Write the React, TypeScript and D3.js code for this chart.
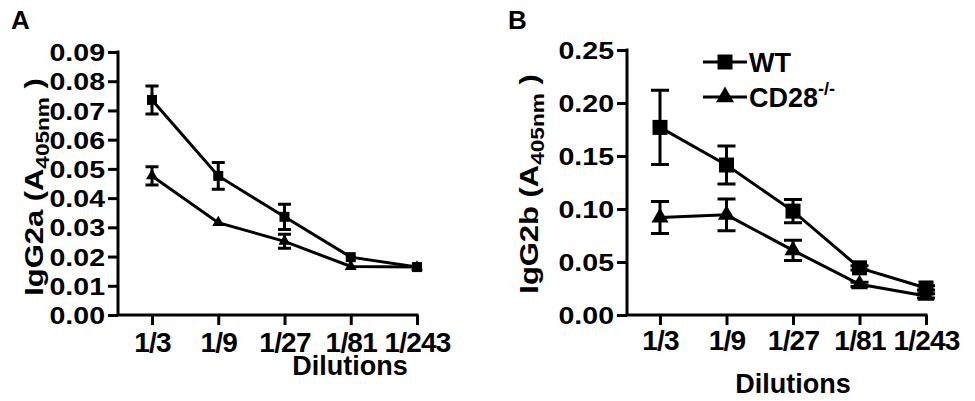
import React, { useRef, useEffect } from "react";
import * as d3 from "d3";

const dilutions = ["1/3", "1/9", "1/27", "1/81", "1/243"];

// panel A: IgG2a
const wtA = [0.0736, 0.0476, 0.0336, 0.0198, 0.0164];
const wtAErr = [0.0048, 0.0046, 0.0043, 0.0006, 0.0004];
const cdA = [0.0476, 0.0316, 0.0252, 0.0166, 0.0164];
const cdAErr = [0.0031, 0.0004, 0.0024, 0.0006, 0.0004];
const ticksA = [0, 0.01, 0.02, 0.03, 0.04, 0.05, 0.06, 0.07, 0.08, 0.09];

// panel B: IgG2b
const wtB = [0.177, 0.1415, 0.098, 0.0445, 0.0255];
const wtBErr = [0.035, 0.018, 0.011, 0.002, 0.002];
const cdB = [0.092, 0.0945, 0.061, 0.029, 0.018];
const cdBErr = [0.015, 0.015, 0.0095, 0.002, 0.002];
const ticksB = [0, 0.05, 0.1, 0.15, 0.2, 0.25];

const legend = ["WT", "CD28"];

const FONT = "'Liberation Sans', Arial, Helvetica, sans-serif";
const STRETCH = 1.19;

type Panel = {
  letter: string;
  letterX: number;
  axisX: number;
  x0: number;
  x1: number;
  max: number;
  top: number;
  ticks: number[];
  wt: number[];
  wtErr: number[];
  cd: number[];
  cdErr: number[];
  sq: number;
  cap: number;
  yTitle: string;
  titleX: number;
  titleY: number;
  dilX: number;
  dilY: number;
  xPad: number;
};

const panels: Panel[] = [
  {
    letter: "A", letterX: 11, axisX: 118, x0: 152, x1: 417, max: 0.09, top: 52,
    ticks: ticksA, wt: wtA, wtErr: wtAErr, cd: cdA, cdErr: cdAErr,
    sq: 10, cap: 13, yTitle: "IgG2a", titleX: 43, titleY: 187, dilX: 350, dilY: 375, xPad: 7,
  },
  {
    letter: "B", letterX: 508, axisX: 627, x0: 660, x1: 926, max: 0.25, top: 50,
    ticks: ticksB, wt: wtB, wtErr: wtBErr, cd: cdB, cdErr: cdBErr,
    sq: 15, cap: 18, yTitle: "IgG2b", titleX: 538, titleY: 184, dilX: 793, dilY: 393, xPad: 5,
  },
];

const BASE = 315;

const App = () => {
  const svgRef = useRef<SVGSVGElement>(null);

  useEffect(() => {
    const svg = d3.select(svgRef.current);
    svg.selectAll("*").remove();

    panels.forEach((p) => {
      const g = svg.append("g");
      const x = d3.scalePoint().domain(dilutions).range([p.x0, p.x1]);
      const y = d3.scaleLinear().domain([0, p.max]).range([BASE, p.top]);

      g.append("text")
        .attr("x", p.letterX)
        .attr("y", 29)
        .attr("font-size", 26)
        .attr("font-weight", "bold")
        .text(p.letter);

      // y axis
      const ya = g
        .append("g")
        .attr("transform", `translate(${p.axisX},0)`)
        .call(d3.axisLeft(y).tickValues(p.ticks).tickFormat(d3.format(".2f")).tickSize(10).tickSizeOuter(0));
      ya.select(".domain").remove();
      ya.selectAll(".tick line").attr("stroke", "#000").attr("stroke-width", 3);
      ya.selectAll(".tick text")
        .attr("font-size", 24)
        .attr("font-weight", "bold")
        .attr("font-family", FONT)
        .attr("fill", "#000")
        .attr("x", -13 / STRETCH)
        .attr("transform", `scale(${STRETCH},1)`)
        .attr("dy", "0.36em");

      // x axis
      const xa = g
        .append("g")
        .attr("transform", `translate(0,${BASE})`)
        .call(d3.axisBottom(x).tickSize(10).tickSizeOuter(0).tickPadding(p.xPad));
      xa.select(".domain").remove();
      xa.selectAll(".tick line").attr("stroke", "#000").attr("stroke-width", 3);
      xa.selectAll(".tick text")
        .attr("font-size", 28)
        .attr("font-weight", "bold")
        .attr("font-family", FONT)
        .attr("fill", "#000")
        .attr("letter-spacing", -0.8);

      g.append("path")
        .attr("d", `M${p.axisX},${p.top - 1.5}V${BASE}H${p.x1 + 1.5}`)
        .attr("fill", "none")
        .attr("stroke", "#000")
        .attr("stroke-width", 3);

      g.append("text")
        .attr("x", p.dilX)
        .attr("y", p.dilY)
        .attr("text-anchor", "middle")
        .attr("font-size", 27)
        .attr("font-weight", "bold")
        .text("Dilutions");

      // y title
      const t = g
        .append("text")
        .attr("transform", `translate(${p.titleX},${p.titleY}) rotate(-90) scale(${STRETCH},1)`)
        .attr("text-anchor", "middle")
        .attr("font-size", 26)
        .attr("font-weight", "bold");
      t.append("tspan").text(`${p.yTitle} (A`);
      t.append("tspan").attr("font-size", 19).attr("dy", 6).text("405nm");
      t.append("tspan").attr("dy", -6).text(" )");

      const line = d3
        .line<number>()
        .x((_, i) => x(dilutions[i])!)
        .y((d) => y(d));

      const drawSeries = (vals: number[], errs: number[], shape: "sq" | "tri") => {
        g.append("path")
          .datum(vals)
          .attr("d", line)
          .attr("fill", "none")
          .attr("stroke", "#000")
          .attr("stroke-width", 3);
        vals.forEach((v, i) => {
          const cx = x(dilutions[i])!;
          const e = errs[i];
          if (y(v - e) - y(v + e) > 4) {
            const hi = y(v + e);
            const lo = y(v - e);
            g.append("path")
              .attr(
                "d",
                `M${cx},${hi}V${lo}M${cx - p.cap / 2},${hi}H${cx + p.cap / 2}M${cx - p.cap / 2},${lo}H${cx + p.cap / 2}`
              )
              .attr("fill", "none")
              .attr("stroke", "#000")
              .attr("stroke-width", 3);
          }
          const side = shape === "sq" ? p.sq : p.sq + 2;
          const size = shape === "sq" ? side * side : (Math.sqrt(3) / 4) * side * side;
          g.append("path")
            .attr("transform", `translate(${cx},${y(v)})`)
            .attr("d", d3.symbol(shape === "sq" ? d3.symbolSquare : d3.symbolTriangle, size)()!)
            .attr("fill", "#000");
        });
      };

      drawSeries(p.cd, p.cdErr, "tri");
      drawSeries(p.wt, p.wtErr, "sq");
    });

    // legend (panel B)
    const lg = svg.append("g");
    legend.forEach((name, i) => {
      const ly = 62 + i * 35;
      lg.append("line")
        .attr("x1", 703)
        .attr("x2", 747)
        .attr("y1", ly)
        .attr("y2", ly)
        .attr("stroke", "#000")
        .attr("stroke-width", 3);
      lg.append("path")
        .attr("transform", `translate(725,${ly})`)
        .attr(
          "d",
          d3.symbol(i === 0 ? d3.symbolSquare : d3.symbolTriangle, i === 0 ? 15 * 15 : (Math.sqrt(3) / 4) * 18 * 18)()!
        )
        .attr("fill", "#000");
      const tx = lg
        .append("text")
        .attr("x", 749)
        .attr("y", ly + 10)
        .attr("font-size", 27)
        .attr("font-weight", "bold");
      tx.append("tspan").text(name);
      if (i === 1) tx.append("tspan").attr("font-size", 18).attr("dy", -12).text("-/-");
    });
  }, []);

  return (
    <svg
      ref={svgRef}
      width={975}
      height={401}
      style={{ position: "absolute", left: 0, top: 0, background: "#fff", fontFamily: FONT }}
    />
  );
};

export default App;
